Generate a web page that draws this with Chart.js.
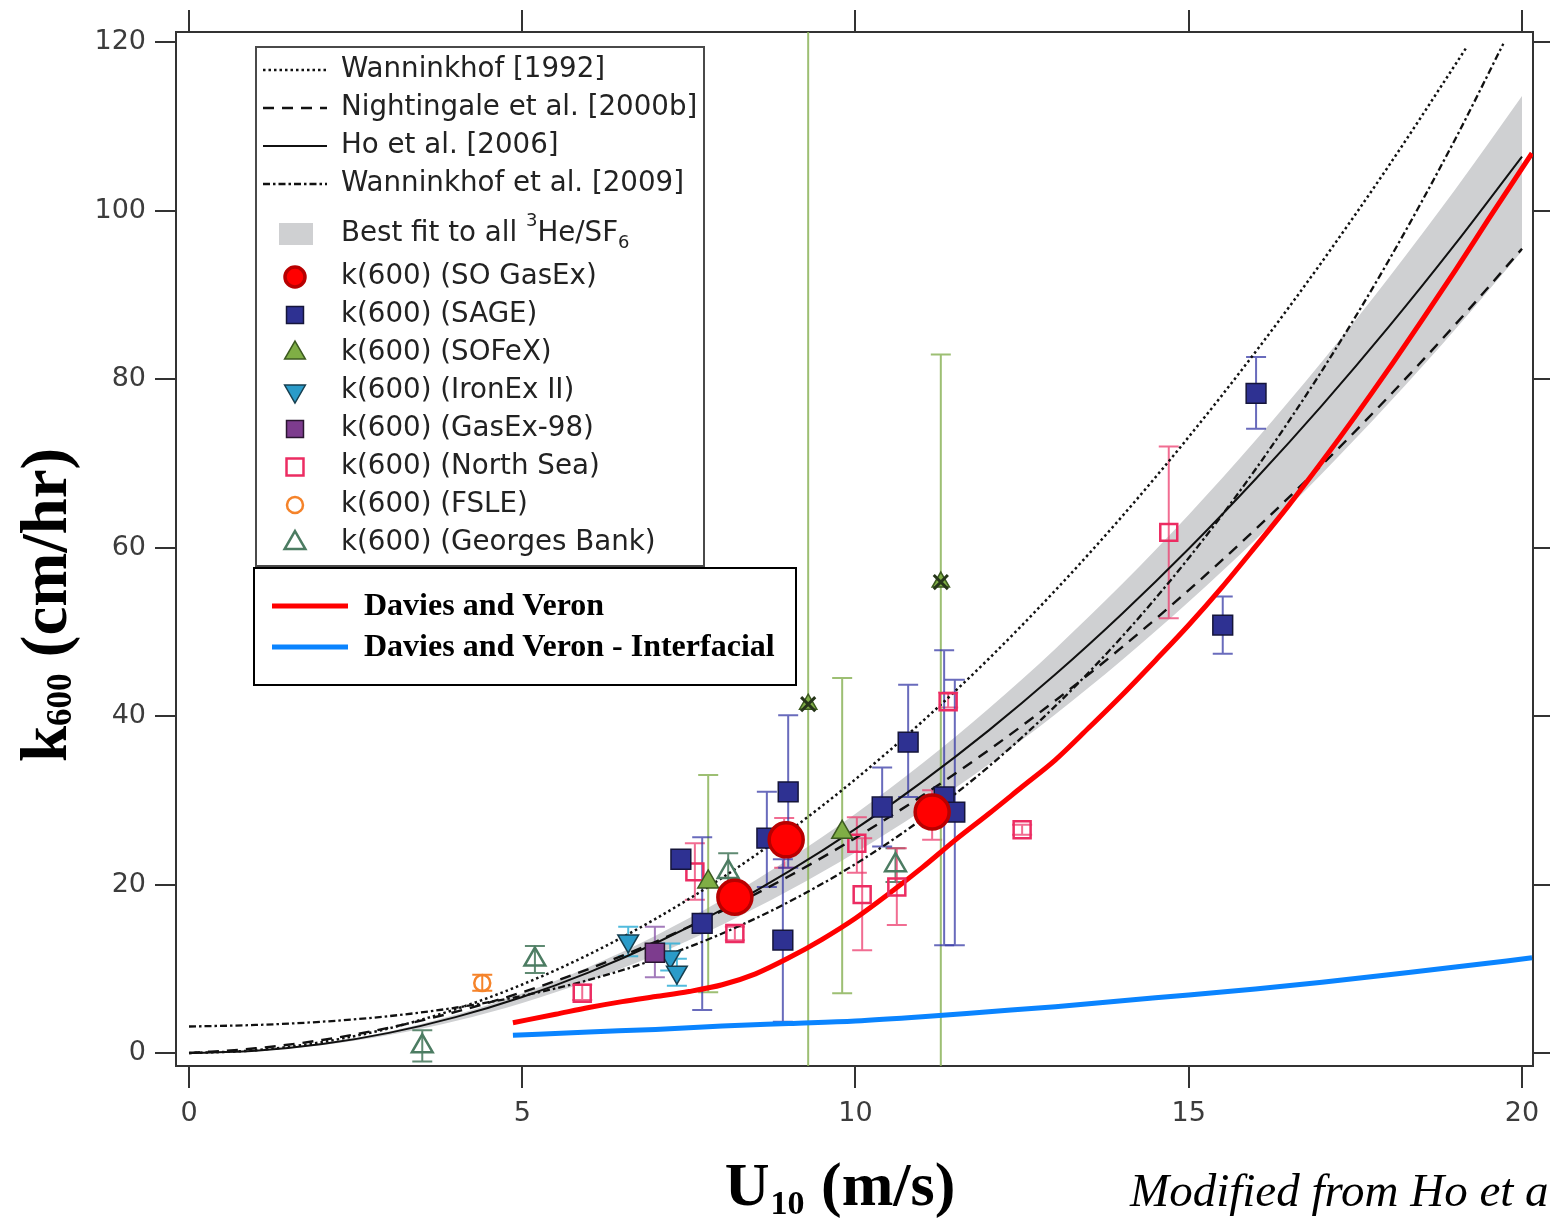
<!DOCTYPE html>
<html>
<head>
<meta charset="utf-8">
<title>k600 vs U10</title>
<script src="https://cdn.jsdelivr.net/npm/chart.js@4.4.1/dist/chart.umd.min.js"></script>
<style>
  html, body { margin: 0; padding: 0; background: #fff; }
</style>
</head>
<body>
<canvas id="k600Chart" width="1550" height="1218"></canvas>
<script>
// Axes: wind speed U10 (m/s) and gas transfer velocity k600 (cm/hr)
const xTicks = [0, 5, 10, 15, 20];
const yTicks = [0, 20, 40, 60, 80, 100, 120];
const xRange = [-0.195, 20.165];
const yRange = [-1.54, 121.19];

// Parameterisation curves
const curveU = [0, 1, 2, 3, 4, 5, 6, 7, 8, 9, 10, 11, 12, 13, 14, 15, 16, 17, 18, 19, 20];
const hoK = [0, 0.27, 1.06, 2.39, 4.26, 6.65, 9.58, 13.03, 17.02, 21.55, 26.6, 32.19, 38.3, 44.95, 52.14, 59.85, 68.1, 76.87, 86.18, 96.03, 106.4];
const nightingaleK = [0, 0.56, 1.55, 3.0, 4.88, 7.22, 9.99, 13.21, 16.87, 20.98, 25.53, 30.53, 35.96, 41.85, 48.17, 54.95, 62.16, 69.82, 77.92, 86.47, 95.46];
const bestFitHi = [0, 0.28, 1.14, 2.56, 4.54, 7.1, 10.22, 13.92, 18.18, 23.0, 28.4, 34.36, 40.9, 48.0, 55.66, 63.9, 72.7, 82.08, 92.02, 102.52, 113.6];
const bestFitLo = [0, 0.24, 0.95, 2.14, 3.81, 5.95, 8.57, 11.66, 15.23, 19.28, 23.8, 28.8, 34.27, 40.22, 46.65, 53.55, 60.93, 68.78, 77.11, 85.92, 95.2];
const w92U = [0, 1, 2, 3, 4, 5, 6, 7, 8, 9, 10, 11, 12, 13, 14, 15, 16, 17, 18, 19, 19.17];
const w92K = [0, 0.33, 1.3, 2.93, 5.2, 8.13, 11.7, 15.93, 20.8, 26.33, 32.5, 39.33, 46.8, 54.93, 63.7, 73.13, 83.2, 93.93, 105.3, 117.33, 119.4];
const w09U = [0, 1, 2, 3, 4, 5, 6, 7, 8, 9, 10, 11, 12, 13, 14, 15, 16, 17, 18, 19, 19.72];
const w09K = [3.15, 3.33, 3.72, 4.38, 5.38, 6.79, 8.68, 11.13, 14.19, 17.94, 22.44, 27.78, 34.01, 41.2, 49.43, 58.76, 69.26, 81.01, 94.07, 108.5, 119.8];

// Davies and Veron model
const dvU = [4.86, 5.5, 6, 6.5, 7, 7.5, 8, 8.5, 9, 9.5, 10, 10.5, 11, 11.5, 12, 12.5, 13, 13.5, 14, 14.5, 15, 15.5, 16, 16.5, 17, 17.5, 18, 18.5, 19, 19.5, 20.15];
const dvK = [3.6, 4.6, 5.4, 6.1, 6.7, 7.3, 8.1, 9.4, 11.3, 13.5, 16.0, 18.9, 22.0, 25.3, 28.4, 31.6, 34.8, 38.6, 42.5, 46.6, 50.8, 55.3, 60.1, 65.0, 70.2, 75.6, 81.2, 87.0, 92.9, 99.0, 106.8];
const dvInterU = [4.86, 6, 7, 8, 9, 10, 11, 12, 13, 14, 15, 16, 17, 18, 19, 20.15];
const dvInterK = [2.1, 2.5, 2.8, 3.2, 3.5, 3.8, 4.3, 4.9, 5.5, 6.2, 6.9, 7.6, 8.4, 9.3, 10.2, 11.3];

// Field measurements (value, lower and upper error limits)
const soGasExU = [8.19, 8.96, 11.15];
const soGasExK = [18.5, 25.3, 28.6];

const sageU = [7.38, 7.70, 8.67, 8.99, 8.91, 10.40, 10.79, 11.33, 11.49, 15.51, 16.01];
const sageK = [23.0, 15.4, 25.5, 31.0, 13.4, 29.2, 36.9, 30.4, 28.6, 50.8, 78.3];
const sageLo = [null, 5.1, 19.7, 22.0, 3.7, 24.5, 30.4, 12.8, 12.8, 47.4, 74.1];
const sageHi = [null, 25.6, 31.0, 40.1, 23.0, 33.9, 43.7, 47.8, 44.3, 54.2, 82.6];

const sofexU = [7.79, 9.80];
const sofexK = [20.3, 26.2];
const sofexLo = [7.2, 7.1];
const sofexHi = [33.0, 44.5];
const sofexFlagU = [9.29, 11.28];
const sofexFlagK = [41.4, 55.9];
const sofexFlagLo = [-5, -5];
const sofexFlagHi = [135, 82.9];

const ironExU = [6.59, 7.22, 7.32];
const ironExK = [13.3, 11.4, 9.6];
const ironExLo = [11.5, 9.8, 8.0];
const ironExHi = [15.0, 13.0, 11.2];

const gasEx98U = [6.99];
const gasEx98K = [11.9];
const gasEx98Lo = [9.0];
const gasEx98Hi = [15.0];

const northSeaU = [5.90, 7.59, 8.19, 8.93, 10.02, 10.10, 10.62, 11.15, 11.39, 12.50, 14.70];
const northSeaK = [7.1, 21.5, 14.2, 25.0, 24.9, 18.8, 19.7, 28.3, 41.7, 26.5, 61.8];
const northSeaLo = [6.3, 18.2, 13.4, 22.0, 21.4, 12.2, 15.2, 25.3, 41.0, 25.9, 51.6];
const northSeaHi = [8.1, 24.9, 15.0, 27.9, 28.0, 25.5, 24.3, 31.2, 42.8, 27.1, 72.0];

const fsleU = [4.40];
const fsleK = [8.3];
const fsleLo = [7.4];
const fsleHi = [9.3];

const georgesU = [3.50, 5.19, 8.09, 10.60];
const georgesK = [0.8, 11.1, 21.5, 22.3];
const georgesLo = [-1.0, 9.5, 19.3, 20.3];
const georgesHi = [2.7, 12.7, 23.7, 24.3];

const legendRows = [
  'Wanninkhof [1992]', 'Nightingale et al. [2000b]', 'Ho et al. [2006]', 'Wanninkhof et al. [2009]',
  'Best fit to all 3He/SF6', 'k(600) (SO GasEx)', 'k(600) (SAGE)', 'k(600) (SOFeX)', 'k(600) (IronEx II)',
  'k(600) (GasEx-98)', 'k(600) (North Sea)', 'k(600) (FSLE)', 'k(600) (Georges Bank)'
];
const modelRows = ['Davies and Veron', 'Davies and Veron - Interfacial'];

const xy = (u, k) => u.map((v, i) => ({ x: v, y: k[i] }));

const curve = (label, u, k, dash, width, order) => ({
  label, data: xy(u, k), showLine: true, pointRadius: 0, pointHoverRadius: 0,
  borderColor: '#111', borderWidth: width, borderDash: dash,
  cubicInterpolationMode: 'monotone', fill: false, order
});

const marker = (label, u, k, style, opts) => Object.assign({
  label, data: xy(u, k), showLine: false, pointStyle: style, pointRotation: 0
}, opts);

const datasets = [
  {
    label: 'Best fit to all 3He/SF6', data: xy(curveU, bestFitHi), showLine: true,
    pointRadius: 0, borderWidth: 0, borderColor: 'rgba(0,0,0,0)', backgroundColor: '#cfd0d2',
    fill: '+1', cubicInterpolationMode: 'monotone', order: 100
  },
  {
    label: 'best fit lower', data: xy(curveU, bestFitLo), showLine: true,
    pointRadius: 0, borderWidth: 0, borderColor: 'rgba(0,0,0,0)', fill: false,
    cubicInterpolationMode: 'monotone', order: 99, errorsAfter: true
  },
  curve('Wanninkhof [1992]', w92U, w92K, [2.5, 3], 2.5, 80),
  curve('Nightingale et al. [2000b]', curveU, nightingaleK, [11, 8], 2.4, 80),
  curve('Ho et al. [2006]', curveU, hoK, [], 2, 80),
  curve('Wanninkhof et al. [2009]', w09U, w09K, [7, 3, 2.5, 3], 2.3, 80),
  {
    label: 'Davies and Veron - Interfacial', data: xy(dvInterU, dvInterK), showLine: true,
    pointRadius: 0, borderColor: '#0a84ff', borderWidth: 5, fill: false,
    cubicInterpolationMode: 'monotone', order: 60
  },
  {
    label: 'Davies and Veron', data: xy(dvU, dvK), showLine: true,
    pointRadius: 0, borderColor: '#ff0000', borderWidth: 5, fill: false,
    cubicInterpolationMode: 'monotone', order: 60
  },
  marker('k(600) (Georges Bank)', georgesU, georgesK, 'triangle', {
    pointRadius: 12, pointBackgroundColor: 'rgba(0,0,0,0)', pointBorderColor: '#4c7c62', pointBorderWidth: 2.5,
    errLo: georgesLo, errHi: georgesHi, errColor: '#5f8a72', order: 20
  }),
  marker('k(600) (FSLE)', fsleU, fsleK, 'circle', {
    pointRadius: 8, pointBackgroundColor: 'rgba(0,0,0,0)', pointBorderColor: '#f5832a', pointBorderWidth: 2.5,
    errLo: fsleLo, errHi: fsleHi, errColor: '#f5832a', order: 20
  }),
  marker('k(600) (North Sea)', northSeaU, northSeaK, 'rect', {
    pointRadius: 12, pointBackgroundColor: 'rgba(0,0,0,0)', pointBorderColor: '#ec2c62', pointBorderWidth: 2.5,
    errLo: northSeaLo, errHi: northSeaHi, errColor: 'rgba(236,60,110,0.75)', order: 20
  }),
  marker('k(600) (GasEx-98)', gasEx98U, gasEx98K, 'rect', {
    pointRadius: 13.5, pointBackgroundColor: '#7d3c8e', pointBorderColor: '#2a1530', pointBorderWidth: 1.5,
    errLo: gasEx98Lo, errHi: gasEx98Hi, errColor: 'rgba(140,90,170,0.8)', order: 18
  }),
  marker('k(600) (IronEx II)', ironExU, ironExK, 'triangle', {
    pointRadius: 12, pointRotation: 180, pointBackgroundColor: '#2a9bc9', pointBorderColor: '#173f50', pointBorderWidth: 1.5,
    errLo: ironExLo, errHi: ironExHi, errColor: 'rgba(50,175,215,0.85)', order: 18
  }),
  marker('k(600) (SOFeX)', sofexU, sofexK, 'triangle', {
    pointRadius: 12, pointBackgroundColor: '#7fae45', pointBorderColor: '#3c5a20', pointBorderWidth: 1.5,
    errLo: sofexLo, errHi: sofexHi, errColor: 'rgba(140,180,90,0.85)', order: 16
  }),
  marker('SOFeX flagged', sofexFlagU, sofexFlagK, 'triangle', {
    pointRadius: 10, pointBackgroundColor: '#7fae45', pointBorderColor: '#3c5a20', pointBorderWidth: 1.5,
    errLo: sofexFlagLo, errHi: sofexFlagHi, errColor: 'rgba(140,180,90,0.85)', order: 16
  }),
  marker('SOFeX flagged cross', sofexFlagU, sofexFlagK, 'crossRot', {
    pointRadius: 10, pointBackgroundColor: 'rgba(0,0,0,0)', pointBorderColor: '#26351a', pointBorderWidth: 3, order: 15
  }),
  marker('k(600) (SAGE)', sageU, sageK, 'rect', {
    pointRadius: 14, pointBackgroundColor: '#2e3192', pointBorderColor: '#15153a', pointBorderWidth: 1.5,
    errLo: sageLo, errHi: sageHi, errColor: 'rgba(55,58,165,0.75)', order: 14
  }),
  marker('k(600) (SO GasEx)', soGasExU, soGasExK, 'circle', {
    pointRadius: 17, pointBackgroundColor: '#ff0000', pointBorderColor: '#b80000', pointBorderWidth: 3.5, order: 1
  })
];

// Vertical error bars, drawn just above the shaded best-fit band
const errorBars = {
  id: 'errorBars',
  afterDatasetDraw(chart, args) {
    if (!chart.data.datasets[args.index].errorsAfter) return;
    const { ctx, chartArea: a, scales: { x, y } } = chart;
    const cap = 10;
    ctx.save();
    ctx.beginPath();
    ctx.rect(a.left, a.top, a.right - a.left, a.bottom - a.top);
    ctx.clip();
    chart.data.datasets.forEach(d => {
      if (!d.errLo) return;
      ctx.strokeStyle = d.errColor;
      ctx.lineWidth = 2;
      d.data.forEach((p, i) => {
        if (d.errLo[i] == null) return;
        const px = x.getPixelForValue(p.x);
        const y1 = y.getPixelForValue(d.errLo[i]);
        const y2 = y.getPixelForValue(d.errHi[i]);
        ctx.beginPath();
        ctx.moveTo(px, y1); ctx.lineTo(px, y2);
        ctx.moveTo(px - cap, y1); ctx.lineTo(px + cap, y1);
        ctx.moveTo(px - cap, y2); ctx.lineTo(px + cap, y2);
        ctx.stroke();
      });
    });
    ctx.restore();
  }
};

function drawSymbol(ctx, ds, x, y, r) {
  ctx.save();
  ctx.fillStyle = ds.pointBackgroundColor;
  ctx.strokeStyle = ds.pointBorderColor;
  ctx.lineWidth = ds.pointBorderWidth;
  Chart.helpers.drawPoint(ctx, {
    pointStyle: ds.pointStyle, radius: r, rotation: ds.pointRotation || 0, borderWidth: ds.pointBorderWidth
  }, x, y);
  ctx.restore();
}

// The two legend panels inside the plot
const legendPanels = {
  id: 'legendPanels',
  afterDraw(chart) {
    const ctx = chart.ctx;
    const find = label => chart.data.datasets.find(d => d.label === label);
    ctx.save();

    ctx.fillStyle = '#fff';
    ctx.fillRect(256, 47, 448, 519);
    ctx.strokeStyle = '#4a4a4a';
    ctx.lineWidth = 2;
    ctx.strokeRect(256, 47, 448, 519);

    const sans = '"DejaVu Sans", sans-serif';
    ctx.textBaseline = 'middle';
    legendRows.forEach((label, i) => {
      const y = i < 4 ? 70 + i * 38 : (i === 4 ? 234 : 277 + (i - 5) * 38);
      const ds = find(label);
      if (ds.fill) {
        ctx.fillStyle = ds.backgroundColor;
        ctx.fillRect(279, y - 11, 34, 22);
      } else if (ds.showLine) {
        ctx.save();
        ctx.strokeStyle = ds.borderColor;
        ctx.lineWidth = ds.borderWidth;
        ctx.setLineDash(ds.borderDash);
        ctx.beginPath();
        ctx.moveTo(263, y); ctx.lineTo(327, y);
        ctx.stroke();
        ctx.restore();
      } else {
        const r = ds.pointStyle === 'circle' ? (ds.pointRadius > 10 ? 10 : 8) : 12;
        drawSymbol(ctx, ds, 295, y, r);
      }
      ctx.fillStyle = '#222';
      ctx.font = '27.7px ' + sans;
      if (ds.fill) {
        let x = 341;
        const parts = [['Best fit to all ', 27.7, 0], ['3', 18, -13], ['He/SF', 27.7, 0], ['6', 18, 9]];
        parts.forEach(([t, size, dy]) => {
          ctx.font = size + 'px ' + sans;
          ctx.fillText(t, x, y + dy);
          x += ctx.measureText(t).width;
        });
      } else {
        ctx.fillText(label, 341, y);
      }
    });

    ctx.fillStyle = '#fff';
    ctx.fillRect(254, 568, 542, 117);
    ctx.strokeStyle = '#000';
    ctx.lineWidth = 2;
    ctx.strokeRect(254, 568, 542, 117);
    modelRows.forEach((label, i) => {
      const y = 606 + i * 41;
      const ds = find(label);
      ctx.strokeStyle = ds.borderColor;
      ctx.lineWidth = 5;
      ctx.beginPath();
      ctx.moveTo(272, y); ctx.lineTo(348, y);
      ctx.stroke();
      ctx.fillStyle = '#000';
      ctx.font = 'bold 32px "Liberation Serif", "Times New Roman", serif';
      ctx.fillText(label, 364, y + 1);
    });
    ctx.restore();
  }
};

// Axis titles and source note
const axisTitles = {
  id: 'axisTitles',
  afterDraw(chart) {
    const ctx = chart.ctx;
    const serif = '"Liberation Serif", "Times New Roman", serif';
    ctx.save();
    ctx.fillStyle = '#000';
    ctx.textBaseline = 'alphabetic';
    ctx.textAlign = 'left';

    const big = 'bold 62px ' + serif, small = 'bold 34px ' + serif;
    ctx.font = big;
    const wU = ctx.measureText('U').width, wRest = ctx.measureText(' (m/s)').width;
    ctx.font = small;
    const wSub = ctx.measureText('10').width;
    let x0 = 839 - (wU + wSub + wRest) / 2;
    ctx.font = big; ctx.fillText('U', x0, 1205);
    ctx.font = small; ctx.fillText('10', x0 + wU + 1, 1214);
    ctx.font = big; ctx.fillText(' (m/s)', x0 + wU + wSub + 2, 1205);

    ctx.save();
    ctx.translate(66, 605);
    ctx.rotate(-Math.PI / 2);
    const bigY = 'bold 65px ' + serif, smallY = 'bold 35px ' + serif;
    ctx.font = bigY;
    const wk = ctx.measureText('k').width, wTail = ctx.measureText(' (cm/hr)').width;
    ctx.font = smallY;
    const w600 = ctx.measureText('600').width;
    let s = -(wk + w600 + wTail) / 2;
    ctx.font = bigY; ctx.fillText('k', s, 0);
    ctx.font = smallY; ctx.fillText('600', s + wk, 5);
    ctx.font = bigY; ctx.fillText(' (cm/hr)', s + wk + w600, 0);
    ctx.restore();

    ctx.font = 'italic 47px ' + serif;
    ctx.fillText('Modified from Ho et al.', 1130, 1206);
    ctx.restore();
  }
};

const axisLine = { display: true, color: '#333', width: 2 };
const tickFont = { family: '"DejaVu Sans", sans-serif', size: 27 };
const setTicks = values => scale => { scale.ticks = values.map(v => ({ value: v })); };

new Chart(document.getElementById('k600Chart'), {
  type: 'scatter',
  data: { datasets },
  options: {
    responsive: false,
    animation: false,
    events: [],
    layout: { padding: 0, autoPadding: false },
    plugins: { legend: { display: false }, tooltip: { enabled: false } },
    scales: {
      x: {
        type: 'linear', position: 'bottom', min: xRange[0], max: xRange[1],
        afterBuildTicks: setTicks(xTicks),
        afterFit: s => { s.height = 152; },
        border: axisLine,
        grid: { drawOnChartArea: false, drawTicks: true, tickLength: 22, color: '#333', lineWidth: 2 },
        ticks: { color: '#3c3c3c', font: tickFont, padding: 10, maxRotation: 0, autoSkip: false }
      },
      xTop: {
        type: 'linear', position: 'top', min: xRange[0], max: xRange[1],
        afterBuildTicks: setTicks(xTicks),
        afterFit: s => { s.height = 32; },
        border: axisLine,
        grid: { drawOnChartArea: false, drawTicks: true, tickLength: 22, color: '#333', lineWidth: 2 },
        ticks: { display: false }
      },
      y: {
        type: 'linear', position: 'left', min: yRange[0], max: yRange[1],
        afterBuildTicks: setTicks(yTicks),
        afterFit: s => { s.width = 176; },
        border: axisLine,
        grid: { drawOnChartArea: false, drawTicks: true, tickLength: 21, color: '#333', lineWidth: 2 },
        ticks: { color: '#3c3c3c', font: tickFont, padding: 9, autoSkip: false }
      },
      yRight: {
        type: 'linear', position: 'right', min: yRange[0], max: yRange[1],
        afterBuildTicks: setTicks(yTicks),
        afterFit: s => { s.width = 17; },
        border: axisLine,
        grid: { drawOnChartArea: false, drawTicks: true, tickLength: 21, color: '#333', lineWidth: 2 },
        ticks: { display: false }
      }
    }
  },
  plugins: [errorBars, legendPanels, axisTitles]
});
</script>
</body>
</html>
